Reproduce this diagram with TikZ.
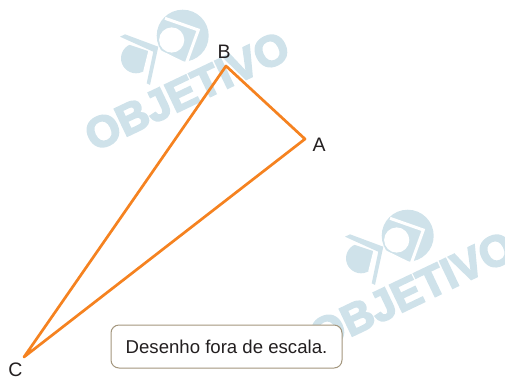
\documentclass[tikz,border=0pt]{standalone}
\usepackage{fontspec}
\setmainfont{Liberation Sans}
\newfontfamily\wmfont[UprightFont=* Bold,FakeBold=4]{Liberation Sans}
\definecolor{wm}{HTML}{CFE2EA}
\definecolor{tri}{HTML}{F58220}
\definecolor{ink}{HTML}{231F20}
\definecolor{frame}{HTML}{A3967D}
\tikzset{
  vertexlabel/.style={text=ink,font=\fontsize{19.5}{22}\selectfont,inner sep=0pt},
  edge/.style={draw=tri,line width=2.7pt,line join=round,line cap=round},
  notebox/.style={draw=frame,line width=1pt,rounded corners=8pt,fill=white,text=ink,
    minimum width=231pt,minimum height=43pt,inner sep=0pt,font=\fontsize{18.6}{22}\selectfont},
  wmtext/.style={text=wm,font=\fontsize{43.5}{44}\wmfont,inner sep=0pt,rotate=25.5},
}
\newcommand{\wmark}[2]{%
  \begin{scope}[shift={(#1,#2)}]
    \fill[wm] (182.7,35.7) circle (26);
    \draw[white,line width=3pt] (165,18.3) -- (198.3,30) -- (186.7,62);
    \fill[white] (154,47) -- (186.7,63) -- (180,72) -- (145,60) -- cycle;
    \fill[white] (171.7,40) circle (12.6);
    \fill[wm] (136,58.3) circle (15);
    \fill[white] (128.3,44.3) -- (148.3,51) -- (143.3,71) -- (151,74) -- (158,48) -- (125,38) -- cycle;
    \fill[wm] (120,36.7) -- (125,34.3) -- (158.3,46.7) -- (150,85) -- (146.7,83.3) -- (153.3,51.7) -- cycle;
    \node[wmtext] at (187,91) {OBJETIVO};
  \end{scope}}
\begin{document}
\begin{tikzpicture}[x=1pt,y=-1pt]
  \useasboundingbox (0,0) rectangle (505,378);
  \wmark{0}{0}
  \wmark{225}{200}
  \coordinate (a) at (305,139);
  \coordinate (b) at (226,66);
  \coordinate (c) at (24,357);
  \draw[edge] (a) -- (b) -- (c) -- cycle;
  \node[vertexlabel] (lb) at (224,52) {B};
  \node[vertexlabel] (la) at (319,145) {A};
  \node[vertexlabel] (lc) at (15.5,370) {C};
  \node[notebox] (note) at (226.5,346.5) {Desenho fora de escala.};
\end{tikzpicture}
\end{document}
